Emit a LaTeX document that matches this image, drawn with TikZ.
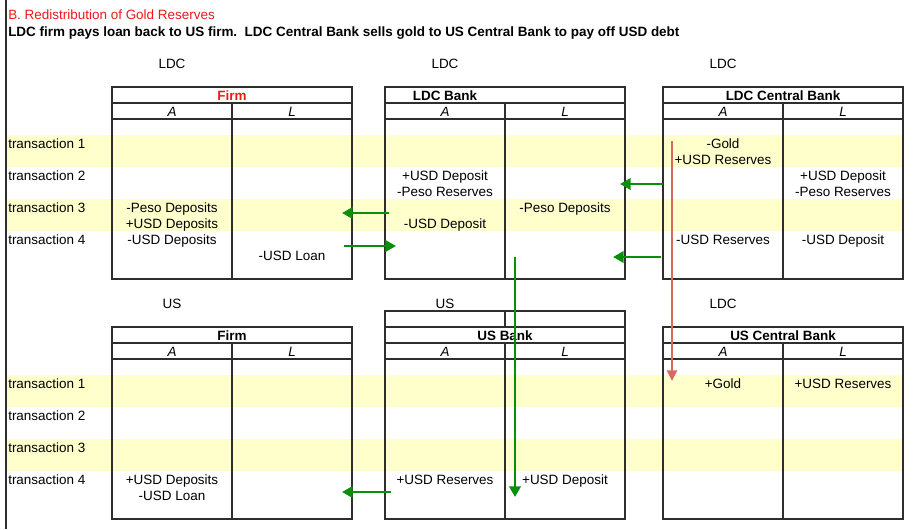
\documentclass[tikz,border=0pt]{standalone}
\usepackage{fontspec}
\setmainfont{Liberation Sans}
\usepackage{xcolor}
\usetikzlibrary{arrows.meta}
\definecolor{band}{HTML}{FFFFCC}
\definecolor{flow}{HTML}{0A8F0A}
\definecolor{goldred}{HTML}{D66A63}
\definecolor{xlred}{HTML}{F01818}
\definecolor{rule}{HTML}{2E2E2E}

\begin{document}
\begin{tikzpicture}[
  x=0.75pt,y=-0.75pt,
  cell/.style={font=\fontsize{10.1}{12}\selectfont,align=center,inner sep=0pt,anchor=base},
  head/.style={cell,font=\fontsize{10.1}{12}\selectfont\bfseries},
  col/.style={cell,font=\fontsize{10.1}{12}\selectfont\itshape},
  rowlbl/.style={cell,anchor=base west},
  grid/.style={draw=rule,line width=0.8pt},
  flowarr/.style={-{Triangle[length=8pt,width=8.5pt]},line width=2.2pt,draw=flow},
  goldarr/.style={-{Triangle[length=8pt,width=7.5pt]},line width=2pt,draw=goldred}
]
\useasboundingbox (0,0) rectangle (919,529);

\foreach \y in {135,199,375,439}{\fill[band] (6,\y) rectangle (903,\y+32);}
\draw[grid] (6,0) -- (6,529);

\node[cell,anchor=base west,text=xlred] (title) at (8,19) {B. Redistribution of Gold Reserves};
\node[head,anchor=base west] (subtitle) at (8,36) {LDC firm pays loan back to US firm.\ \ LDC Central Bank sells gold to US Central Bank to pay off USD debt};

\foreach \x/\t in {112/87,385/87,663/87,112/327,385/327,663/327}{
  \draw[grid] (\x,\t) rectangle (\x+240,\t+192);
  \draw[grid] (\x,\t+16) -- ++(240,0) (\x,\t+32) -- ++(240,0);
  \draw[grid] (\x+120,\t+16) -- (\x+120,\t+192);
  \node[col] (a\x\t) at (\x+60,\t+29) {A};
  \node[col] (l\x\t) at (\x+180,\t+29) {L};
}
\draw[grid] (385,311) rectangle (625,327);
\draw[grid] (505,311) -- (505,327);

\node[cell] (ldc1) at (172,68) {LDC};
\node[cell] (ldc2) at (445,68) {LDC};
\node[cell] (ldc3) at (723,68) {LDC};
\node[cell] (us1) at (172,308) {US};
\node[cell] (us2) at (445,308) {US};
\node[cell] (ldc4) at (723,308) {LDC};

\node[head,text=xlred] (ldcfirm) at (232,100) {Firm};
\node[head] (ldcbank) at (445,100) {LDC Bank};
\node[head] (ldccb) at (783,100) {LDC Central Bank};
\node[head] (usfirm) at (232,340) {Firm};
\node[head] (usbank) at (505,340) {US Bank};
\node[head] (uscb) at (783,340) {US Central Bank};

\foreach \n/\y in {1/148,2/180,3/212,4/244}{\node[rowlbl] (tt\n) at (8,\y) {transaction \n};}
\foreach \n/\y in {1/388,2/420,3/452,4/484}{\node[rowlbl] (tb\n) at (8,\y) {transaction \n};}

\node[cell] (fa3) at (172,228) {-Peso Deposits\\+USD Deposits};
\node[cell] (fa4) at (172,244) {-USD Deposits};
\node[cell] (fl4) at (292,260) {-USD Loan};
\node[cell] (ba2) at (445,196) {+USD Deposit\\-Peso Reserves};
\node[cell] (ba3) at (445,228) {-USD Deposit};
\node[cell] (bl3) at (565,212) {-Peso Deposits};
\node[cell] (ca1) at (723,164) {-Gold\\+USD Reserves};
\node[cell] (ca4) at (723,244) {-USD Reserves};
\node[cell] (cl2) at (843,196) {+USD Deposit\\-Peso Reserves};
\node[cell] (cl4) at (843,244) {-USD Deposit};

\node[cell] (ufa4) at (172,500) {+USD Deposits\\-USD Loan};
\node[cell] (uba4) at (445,484) {+USD Reserves};
\node[cell] (ubl4) at (565,484) {+USD Deposit};
\node[cell] (uca1) at (723,388) {+Gold};
\node[cell] (ucl1) at (843,388) {+USD Reserves};

\coordinate (p1) at (389,213); \coordinate (q1) at (342,213);
\coordinate (p2) at (344,246); \coordinate (q2) at (396,246);
\coordinate (p3) at (663,184); \coordinate (q3) at (620,184);
\coordinate (p4) at (661,257); \coordinate (q4) at (613,257);
\coordinate (p5) at (515,257); \coordinate (q5) at (515,497);
\coordinate (p6) at (391,492); \coordinate (q6) at (342,492);
\coordinate (goldout) at (672,141); \coordinate (goldin) at (672,381);

\foreach \k in {1,...,6}{\draw[flowarr] (p\k) -- (q\k);}
\draw[goldarr] (goldout) -- (goldin);
\end{tikzpicture}
\end{document}
